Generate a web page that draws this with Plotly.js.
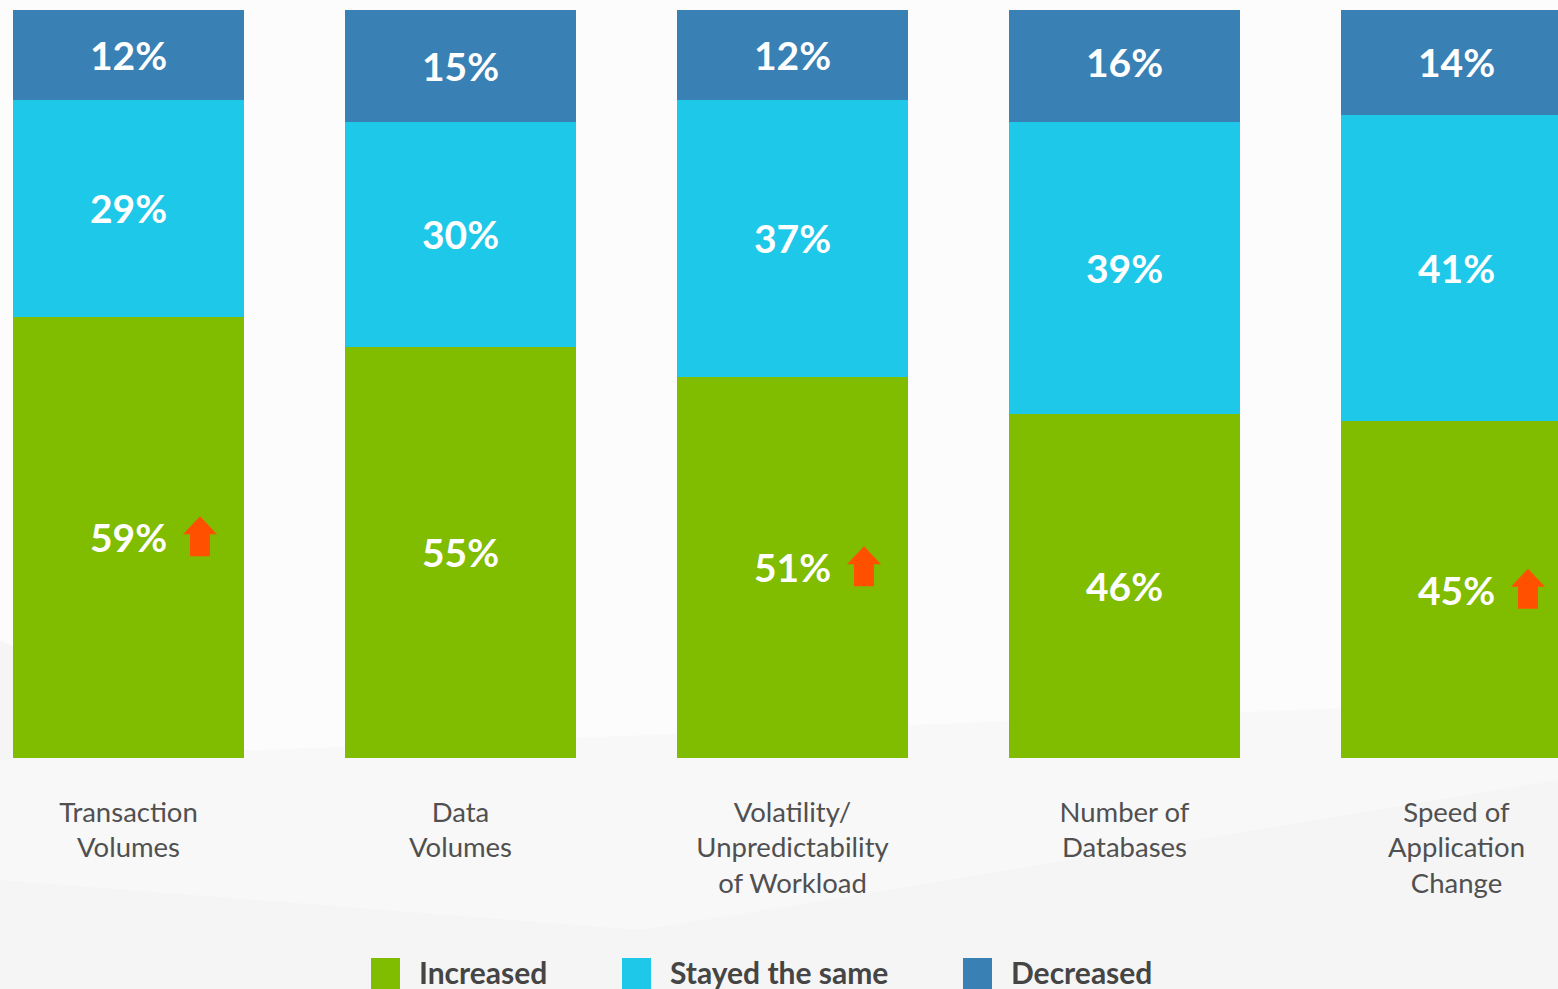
<!DOCTYPE html>
<html>
<head>
<meta charset="utf-8">
<script src="https://cdn.plot.ly/plotly-3.0.1.min.js"></script>
<style>html,body{margin:0;padding:0;background:#fff;}#chart{width:1558px;height:989px;}</style>
</head>
<body>
<div id="chart"></div>
<script>
// ---- data ----
var categories = ["Transaction<br>Volumes", "Data<br>Volumes", "Volatility/<br>Unpredictability<br>of Workload", "Number of<br>Databases", "Speed of<br>Application<br>Change"];
var increased = [59, 55, 51, 46, 45];
var stayedSame = [29, 30, 37, 39, 41];
var decreased = [12, 15, 12, 16, 14];
var highlighted = [true, false, true, false, true];
var seriesNames = ["Increased", "Stayed the same", "Decreased"];

// ---- styles ----
var colors = ["#80bc00", "#1ec8e8", "#3980b5"];
var arrowColor = "#ff5000";
var W = 1558, H = 989, T = 10, B = 231;
var plotH = H - T - B; // 748
var step = 332, firstCenter = 128.5;
var xr0 = -firstCenter / step, xr1 = (W - firstCenter) / step;
var xs = categories.map(function (_, i) { return i; });
var labelFont = "Lato, 'Open Sans', sans-serif";

function barTrace(vals, name, color) {
  return {
    type: "bar", x: xs, y: vals, name: name,
    marker: { color: color, line: { width: 0 } },
    texttemplate: "%{y}%", textposition: "inside", insidetextanchor: "middle",
    textangle: 0, constraintext: "none",
    textfont: { family: labelFont, size: 39, color: "#ffffff", weight: 700 },
    hoverinfo: "skip", showlegend: false
  };
}
var traces = [
  barTrace(increased, seriesNames[0], colors[0]),
  barTrace(stayedSame, seriesNames[1], colors[1]),
  barTrace(decreased, seriesNames[2], colors[2])
];

function py(p) { return (H - B - p) / plotH; }
function px(p) { return p / W; }

var shapes = [];
// faint background facets
shapes.push({ type: "path", xref: "paper", yref: "paper", layer: "below", line: { width: 0 }, fillcolor: "#f5f5f5",
  path: "M " + px(0) + " " + py(640) + " L " + px(640) + " " + py(930) + " L " + px(1558) + " " + py(780) + " L " + px(1558) + " " + py(989) + " L " + px(0) + " " + py(989) + " Z" });
shapes.push({ type: "path", xref: "paper", yref: "paper", layer: "below", line: { width: 0 }, fillcolor: "#f8f8f8",
  path: "M " + px(0) + " " + py(760) + " L " + px(1558) + " " + py(700) + " L " + px(1558) + " " + py(780) + " L " + px(640) + " " + py(930) + " L " + px(0) + " " + py(880) + " Z" });

// arrows next to highlighted "increased" values (pixel-sized, anchored in data coords)
highlighted.forEach(function (h, i) {
  if (!h) return;
  shapes.push({
    type: "path", xref: "x", yref: "y", xsizemode: "pixel", ysizemode: "pixel",
    xanchor: i, yanchor: increased[i] / 2,
    path: "M 61.5 3 L 61.5 -19 L 81.5 -19 L 81.5 3 L 88.5 3 L 71.5 21 L 54.5 3 Z",
    fillcolor: arrowColor, line: { width: 0 }
  });
});

// custom legend
var annotations = [];
var legendX = [371, 622, 963];
seriesNames.forEach(function (n, k) {
  shapes.push({ type: "rect", xref: "paper", yref: "paper",
    x0: px(legendX[k]), x1: px(legendX[k] + 29), y0: py(958), y1: py(989),
    fillcolor: colors[k], line: { width: 0 } });
  annotations.push({ xref: "paper", yref: "paper", x: px(legendX[k] + 46), y: py(972),
    xanchor: "left", yanchor: "middle", showarrow: false, text: n,
    font: { family: labelFont, size: 30, color: "#454545", weight: 700 } });
});

var layout = {
  width: W, height: H,
  margin: { l: 0, r: 0, t: T, b: B, pad: 0 },
  paper_bgcolor: "#fcfcfc", plot_bgcolor: "rgba(0,0,0,0)",
  barmode: "stack", bargap: 1 - 231 / step,
  showlegend: false,
  xaxis: {
    range: [xr0, xr1], tickvals: xs, ticktext: categories,
    showgrid: false, zeroline: false, showline: false, ticks: "",
    tickfont: { family: labelFont, size: 27.5, color: "#505050", weight: 400 },
    ticklabelstandoff: 35, fixedrange: true
  },
  yaxis: { range: [0, 100], visible: false, fixedrange: true },
  shapes: shapes, annotations: annotations
};

Plotly.newPlot("chart", traces, layout, { displayModeBar: false, staticPlot: true });
</script>
</body>
</html>
